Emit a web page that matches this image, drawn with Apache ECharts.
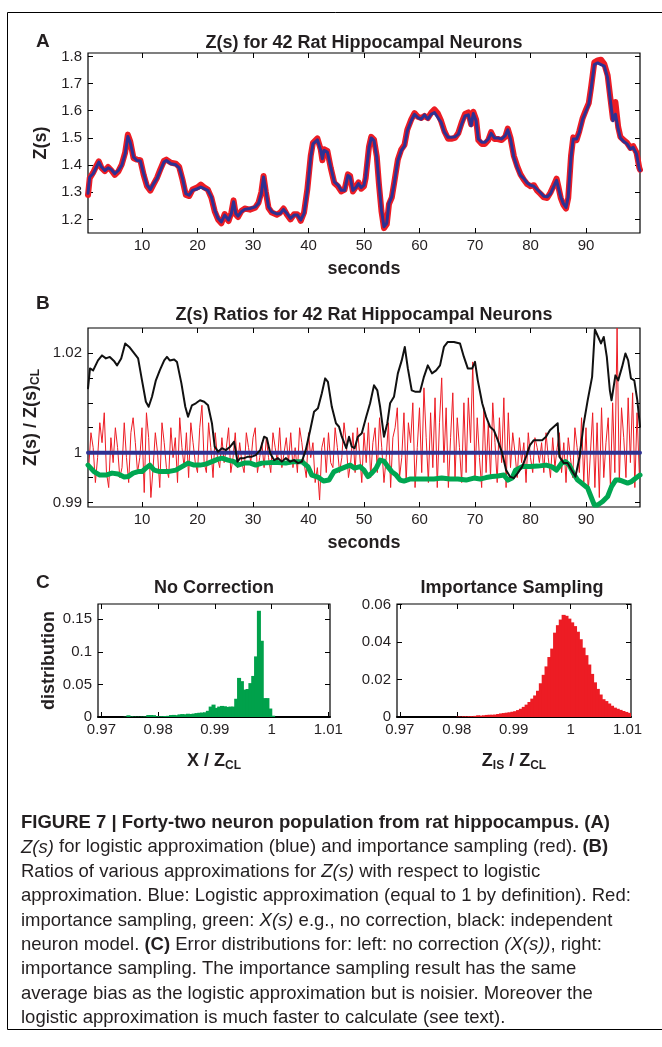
<!DOCTYPE html>
<html><head><meta charset="utf-8">
<script src="https://cdn.jsdelivr.net/npm/echarts@6/dist/echarts.min.js"></script>
<style>html,body{margin:0;padding:0;background:#fff}#c{width:662px;height:1047px}</style>
</head><body><div id="c"></div>
<script>
// ---------------- DATA ----------------
// Panel A: Z(s) over time
const TIME_A = [
 0.27,0.58,1.19,1.79,2.22,2.7,3.3,3.9,4.5,5.1,
 5.74,6.35,6.96,7.45,7.87,8.48,9.09,9.7,10.3,10.9,
 11.5,12.1,12.7,13.3,13.95,14.4,15.2,16.1,16.7,17.3,
 17.9,18.5,19.1,20.0,20.6,21.2,21.85,22.5,23.1,23.7,
 24.3,24.9,25.2,25.6,26.1,26.5,26.9,27.3,27.9,28.5,
 29.45,30.4,31.0,31.5,31.9,32.3,32.8,33.4,34.3,34.9,
 35.5,36.1,36.75,37.4,38.0,38.6,39.2,39.8,40.4,40.8,
 41.6,42.2,42.5,42.8,43.4,44.0,44.65,45.3,45.9,46.5,
 47.1,47.5,48.0,48.6,49.0,49.5,50.0,50.3,50.9,51.3,
 51.8,52.3,52.7,53.15,53.6,54.1,54.5,55.0,55.45,56.1,
 56.7,57.3,57.8,58.5,59.1,59.7,60.3,60.9,61.5,62.1,
 62.7,63.3,63.9,64.5,65.15,65.75,66.4,67.0,67.6,68.2,
 68.8,69.3,69.7,70.2,70.6,71.2,71.8,72.4,72.9,73.5,
 74.1,74.8,75.45,75.9,76.4,77.0,77.6,78.2,78.8,79.4,
 80.0,80.6,81.2,81.8,82.4,83.0,83.6,84.2,84.7,85.0,
 85.45,85.9,86.4,86.8,87.3,87.7,88.3,88.8,89.4,90.0,
 90.5,90.9,91.5,92.1,92.7,93.3,93.9,94.4,94.85,95.3,
 95.8,96.2,96.8,97.4,98.0,98.5,99.1,99.6,99.73];
const Z_LOGISTIC = [
 1.296,1.356,1.368,1.393,1.411,1.393,1.380,1.390,1.383,1.368,
 1.380,1.399,1.441,1.505,1.484,1.429,1.417,1.415,1.368,1.326,
 1.310,1.332,1.350,1.380,1.411,1.417,1.405,1.401,1.390,1.350,
 1.295,1.289,1.307,1.313,1.319,1.313,1.307,1.283,1.234,1.204,
 1.191,1.216,1.210,1.198,1.222,1.265,1.222,1.212,1.228,1.237,
 1.240,1.246,1.259,1.295,1.356,1.307,1.246,1.228,1.220,1.222,
 1.237,1.222,1.204,1.216,1.216,1.198,1.222,1.307,1.429,1.478,
 1.493,1.454,1.423,1.454,1.448,1.393,1.338,1.326,1.307,1.307,
 1.362,1.356,1.307,1.319,1.332,1.317,1.326,1.356,1.465,1.500,
 1.490,1.429,1.332,1.234,1.173,1.186,1.259,1.283,1.332,1.417,
 1.453,1.471,1.526,1.563,1.587,1.575,1.569,1.585,1.569,1.587,
 1.593,1.575,1.557,1.520,1.502,1.502,1.504,1.514,1.551,1.581,
 1.585,1.545,1.590,1.563,1.496,1.484,1.484,1.496,1.517,1.500,
 1.500,1.496,1.508,1.530,1.496,1.429,1.392,1.362,1.350,1.334,
 1.326,1.322,1.310,1.298,1.285,1.283,1.295,1.322,1.344,1.319,
 1.283,1.259,1.244,1.283,1.429,1.496,1.496,1.520,1.569,1.599,
 1.624,1.678,1.770,1.776,1.770,1.764,1.721,1.636,1.563,1.587,
 1.532,1.500,1.487,1.478,1.459,1.465,1.441,1.386,1.380];
const Z_IMPORTANCE = [
 1.290,1.352,1.372,1.398,1.414,1.390,1.378,1.393,1.380,1.364,
 1.377,1.402,1.446,1.512,1.488,1.425,1.420,1.418,1.364,1.322,
 1.306,1.330,1.353,1.384,1.415,1.420,1.409,1.405,1.393,1.346,
 1.290,1.286,1.310,1.318,1.328,1.318,1.310,1.280,1.230,1.200,
 1.186,1.220,1.206,1.194,1.225,1.270,1.218,1.209,1.231,1.240,
 1.236,1.243,1.262,1.300,1.360,1.303,1.242,1.225,1.217,1.225,
 1.240,1.218,1.200,1.219,1.219,1.195,1.226,1.312,1.434,1.482,
 1.498,1.458,1.418,1.458,1.452,1.390,1.334,1.322,1.303,1.310,
 1.366,1.360,1.303,1.322,1.336,1.313,1.322,1.352,1.468,1.504,
 1.494,1.432,1.328,1.230,1.168,1.182,1.256,1.280,1.336,1.420,
 1.457,1.475,1.530,1.567,1.591,1.578,1.573,1.581,1.573,1.592,
 1.605,1.590,1.562,1.524,1.497,1.497,1.500,1.518,1.556,1.588,
 1.594,1.550,1.596,1.568,1.492,1.478,1.478,1.492,1.521,1.496,
 1.496,1.492,1.504,1.534,1.500,1.434,1.396,1.366,1.346,1.330,
 1.322,1.326,1.306,1.294,1.281,1.279,1.299,1.326,1.350,1.323,
 1.279,1.255,1.240,1.279,1.434,1.502,1.492,1.525,1.573,1.604,
 1.628,1.684,1.778,1.785,1.788,1.772,1.730,1.645,1.570,1.632,
 1.540,1.504,1.492,1.482,1.463,1.470,1.446,1.390,1.383];

// Panel B: ratios
const LOGISTIC_RATIO = 1;
const IS_RATIO_T0 = 0.4, IS_RATIO_DT = 0.4;
const IS_RATIO = [
 0.997,1.004,1.001,0.994,0.999,1.006,1.002,1.008,0.996,0.993,
 1.003,0.998,1.005,1.001,0.995,0.997,1.006,0.999,0.994,1.004,
 1.007,1.002,0.996,0.999,1.005,0.992,1.008,1.003,0.991,0.997,
 1.004,1.000,0.993,1.006,1.002,0.997,0.995,1.005,0.999,1.003,
 0.994,1.007,1.001,0.997,1.004,0.995,1.006,1.002,0.998,0.996,
 1.005,1.0095,0.998,0.996,1.006,1.001,0.995,1.004,0.999,0.997,
 1.003,0.998,1.001,1.005,0.996,0.999,1.004,0.997,1.002,0.998,
 0.996,1.004,1.001,0.998,1.003,1.005,0.996,0.999,1.002,0.997,
 1.003,0.999,0.996,1.004,1.001,0.998,1.005,0.997,1.000,1.003,
 0.998,1.004,0.997,1.001,0.996,1.005,1.002,0.998,0.995,1.004,
 0.999,1.002,0.994,0.997,0.9905,1.001,1.003,0.996,1.004,0.998,
 0.997,1.005,1.001,0.996,0.999,1.006,1.002,0.995,0.998,1.004,
 0.996,1.005,1.000,0.994,1.004,0.998,1.006,0.995,1.002,1.005,
 0.996,1.007,1.001,0.994,0.999,1.006,0.993,1.003,1.005,1.009,
 0.995,0.999,1.008,0.994,1.006,1.002,1.010,0.993,1.001,1.009,
 0.996,1.013,1.003,0.994,1.008,0.997,1.011,0.993,1.006,1.015,
 0.998,1.009,0.993,1.003,1.012,0.995,1.007,1.001,0.994,1.010,
 0.996,1.011,1.002,1.0182,0.995,1.007,0.999,0.993,1.009,0.996,
 1.006,0.995,1.010,1.002,0.994,1.007,0.998,1.011,0.993,1.008,
 0.997,1.004,1.000,0.995,1.003,0.998,1.002,0.994,1.004,0.999,
 0.996,1.003,1.001,0.998,1.002,0.996,1.004,0.999,0.995,1.003,
 0.997,1.001,1.004,0.996,1.002,0.994,1.003,0.999,0.995,1.005,
 1.001,0.996,1.007,0.994,1.005,0.992,1.000,1.008,0.993,1.006,
 0.991,1.009,0.995,1.002,1.007,0.993,1.010,0.996,1.025,0.994,
 1.009,1.003,0.995,1.011,0.998,1.012,0.993,1.008,0.996];
const TIME_INDEP = [
 0.27,0.63,1.2,2.07,2.8,3.5,4.2,4.95,5.5,6.25,
 6.97,7.7,8.4,9.3,10.0,10.7,11.2,11.8,12.5,13.2,
 14.0,14.5,15.0,15.8,16.3,17.1,17.8,18.3,19.0,19.7,
 20.45,21.2,21.9,22.6,23.1,23.7,24.4,25.1,25.9,26.6,
 27.2,27.7,28.4,29.1,29.8,30.5,31.3,32.0,32.5,33.1,
 33.8,34.5,35.2,35.9,36.7,37.4,38.1,38.8,39.5,40.3,
 41.0,41.7,42.4,43.0,43.5,44.2,44.95,45.5,46.0,46.8,
 47.3,47.8,48.3,48.9,49.6,50.4,51.1,51.8,52.4,52.9,
 53.6,54.2,54.7,55.4,56.1,56.8,57.35,57.9,58.6,59.3,
 60.1,60.8,61.5,62.25,63.0,63.7,64.4,65.1,66.2,67.3,
 68.0,68.7,69.5,70.0,70.5,71.3,72.0,72.7,73.4,74.1,
 74.9,75.6,76.3,77.0,77.7,78.5,79.2,79.9,80.6,81.3,
 82.1,82.8,83.5,84.2,84.9,85.2,86.0,86.7,87.4,88.1,
 88.85,89.6,90.3,91.1,91.6,92.2,92.7,93.2,93.75,94.3,
 94.6,95.3,95.8,96.5,97.1,97.6,98.1,98.7,99.25,99.73];
const INDEP_RATIO = [
 1.0129,1.0169,1.0165,1.0185,1.0195,1.0189,1.0192,1.0184,1.0175,1.0189,
 1.0219,1.0212,1.0202,1.0189,1.0145,1.0102,1.0092,1.0112,1.0145,1.0165,
 1.0185,1.0192,1.0185,1.0187,1.0182,1.0139,1.0092,1.0072,1.0095,1.0099,
 1.0105,1.0102,1.0095,1.0059,1.0012,1.0002,1.0009,1.0005,1.0012,1.0022,
 0.9982,0.9989,0.9989,0.9992,0.9992,0.9995,1.0005,1.0032,1.0029,0.9999,
 0.9985,0.9989,0.9982,0.9989,0.9982,0.9985,0.9979,0.9982,1.0005,1.0045,
 1.0082,1.0089,1.0119,1.0149,1.0142,1.0092,1.0059,1.0052,1.0032,1.0009,
 1.0032,1.0012,1.0009,1.0032,1.0039,1.0072,1.0099,1.0135,1.0125,1.0092,
 1.0032,1.0059,1.0099,1.0112,1.0159,1.0185,1.0212,1.0169,1.0125,1.0122,
 1.0122,1.0152,1.0175,1.0159,1.0165,1.0175,1.0212,1.0222,1.0222,1.0219,
 1.0192,1.0169,1.0169,1.0182,1.0145,1.0099,1.0072,1.0052,1.0045,1.0025,
 0.9999,0.9965,0.9952,0.9949,0.9959,0.9972,0.9992,1.0015,1.0025,1.0025,
 1.0025,1.0032,1.0045,1.0052,1.0059,0.9992,0.9979,0.9979,0.9965,0.9952,
 0.9992,1.0059,1.0105,1.0152,1.0247,1.0232,1.0219,1.0232,1.0192,1.0125,
 1.0105,1.0155,1.0145,1.0172,1.0199,1.0185,1.0149,1.0145,1.0105,1.0052];
const TIME_NOCORR = [
 0.27,1.35,2.4,3.5,4.6,5.7,6.8,7.5,8.4,9.3,
 10.0,10.7,11.4,12.2,13.2,14.7,16.1,17.2,18.3,19.4,
 20.45,21.5,22.6,23.7,24.4,25.5,26.6,27.3,28.4,29.5,
 30.5,31.6,33.1,34.5,35.9,37.4,38.8,39.9,40.6,41.7,
 42.7,43.7,44.6,45.7,46.8,47.5,48.3,49.3,50.0,50.7,
 51.4,52.2,52.9,53.6,54.3,55.0,55.8,56.5,57.2,58.25,
 59.7,61.1,62.6,64.0,65.5,66.9,68.4,69.8,70.9,72.0,
 73.1,74.1,75.2,75.95,76.7,77.3,78.5,79.9,81.3,82.8,
 83.8,84.7,85.6,86.3,87.0,87.7,88.5,89.2,90.3,91.0,
 91.5,92.1,93.0,93.9,94.6,95.35,96.1,96.8,97.5,98.2,
 99.0,99.73];
const NOCORR_RATIO = [
 0.9975,0.9962,0.9955,0.9955,0.9959,0.9957,0.9951,0.9952,0.9959,0.9962,
 0.9962,0.9969,0.9975,0.9965,0.9962,0.9962,0.9965,0.9972,0.9979,0.9975,
 0.9975,0.9977,0.9982,0.9987,0.9989,0.9985,0.9982,0.9975,0.9979,0.9979,
 0.9975,0.9979,0.9980,0.9980,0.9979,0.9982,0.9982,0.9972,0.9955,0.9951,
 0.9943,0.9945,0.9962,0.9967,0.9972,0.9975,0.9969,0.9972,0.9965,0.9952,
 0.9959,0.9969,0.9985,0.9983,0.9972,0.9962,0.9955,0.9945,0.9943,0.9947,
 0.9947,0.9947,0.9947,0.9949,0.9947,0.9947,0.9945,0.9949,0.9947,0.9950,
 0.9952,0.9953,0.9955,0.9945,0.9949,0.9965,0.9972,0.9972,0.9973,0.9975,
 0.9972,0.9965,0.9979,0.9982,0.9975,0.9959,0.9945,0.9939,0.9929,0.9909,
 0.9895,0.9895,0.9902,0.9912,0.9932,0.9945,0.9945,0.9942,0.9939,0.9942,
 0.9949,0.9955];

// Panel C: histograms (bin left edge = start + i*width)
const NC_BIN_START = 0.974, NC_BIN_WIDTH = 0.0005;
const NC_DIST = [
 0.0005,0.0026,0.0008,0.0005,0.0004,0.0004,0.0005,0.0008,0.0030,0.0030,
 0.0028,0.0012,0.0010,0.0012,0.0015,0.0018,0.0030,0.0032,0.0028,0.0040,
 0.0045,0.0042,0.0050,0.0046,0.0052,0.0060,0.0065,0.0068,0.0072,0.0095,
 0.0160,0.0190,0.0140,0.0160,0.0170,0.0165,0.0155,0.0160,0.0160,0.0280,
 0.0600,0.0550,0.0420,0.0430,0.0520,0.0630,0.0930,0.1630,0.1170,0.0290,
 0.0290,0.0130,0.0020];
const IS_BIN_START = 0.980, IS_BIN_WIDTH = 0.0005;
const IS_DIST = [
 0.0002,0.0002,0.0003,0.0003,0.0004,0.0004,0.0006,0.0009,0.0007,0.0009,
 0.0011,0.0012,0.0012,0.0013,0.0016,0.0019,0.0021,0.0023,0.0025,0.0028,
 0.0031,0.0037,0.0044,0.0054,0.0066,0.0080,0.0098,0.0115,0.0140,0.0180,
 0.0225,0.0270,0.0320,0.0365,0.0450,0.0490,0.0520,0.0545,0.0540,0.0525,
 0.0505,0.0485,0.0455,0.0415,0.0370,0.0330,0.0280,0.0230,0.0185,0.0150,
 0.0120,0.0095,0.0085,0.0072,0.0060,0.0050,0.0044,0.0038,0.0032,0.0027,
 0.0022,0.0017];

// Tick values
const TICKS_SECONDS = [10,20,30,40,50,60,70,80,90];
const TICKS_Z = [1.2,1.3,1.4,1.5,1.6,1.7,1.8];
const TICKS_RATIO = [0.99,0.995,1,1.005,1.01,1.015,1.02];
const LABELS_RATIO = [0.99,1,1.02];
const TICKS_ERR = [0.97,0.98,0.99,1,1.01];
const TICKS_NC = [0,0.05,0.1,0.15];
const TICKS_IS = [0,0.02,0.04,0.06];

// ---------------- CHART ----------------
const FONT = '"Liberation Sans", Arial, Helvetica, sans-serif';
const TXT = '#231f20';
const chart = echarts.init(document.getElementById('c'), null, {renderer: 'canvas'});
const fmt = v => String(+(+v).toFixed(4));
const nameStyle = {fontSize: 18, fontWeight: 'bold', color: TXT, fontFamily: FONT,
  rich: {m: {fontSize: 18, fontWeight: 'bold', color: TXT, fontFamily: FONT},
         s: {fontSize: 12, fontWeight: 'bold', color: TXT, fontFamily: FONT, padding: [10, 0, 0, 0]}}};

const grids = [
  {left: 88, top: 53, width: 552, height: 180},
  {left: 88, top: 328, width: 552, height: 179},
  {left: 98, top: 604, width: 232, height: 113},
  {left: 397, top: 604, width: 234, height: 113}
].map(g => Object.assign({show: true, borderColor: '#000', borderWidth: 1.2, backgroundColor: 'transparent'}, g));

const xAxes = [], yAxes = [];
function tick(vals) { return {show: true, inside: true, length: 5, customValues: vals, lineStyle: {color: '#000', width: 1}}; }
function addAxes(gi, c) {
  const base = {type: 'value', gridIndex: gi, splitLine: {show: false}, axisLine: {show: false, onZero: false}};
  xAxes.push(Object.assign({}, base, {
    position: 'bottom', min: c.xmin, max: c.xmax, axisTick: tick(c.xticks),
    axisLabel: {show: true, customValues: c.xlabels || c.xticks, formatter: fmt, fontSize: 15, color: TXT, fontFamily: FONT, margin: 5},
    name: c.xname, nameLocation: 'middle', nameGap: c.xgap, nameTextStyle: nameStyle
  }, c.xextra || {}));
  xAxes.push(Object.assign({}, base, {position: 'top', min: c.xmin, max: c.xmax, axisTick: tick(c.xticks), axisLabel: {show: false}}));
  yAxes.push(Object.assign({}, base, {
    position: 'left', min: c.ymin, max: c.ymax, axisTick: tick(c.yticks),
    axisLabel: {show: true, customValues: c.ylabels || c.yticks, formatter: fmt, fontSize: 15, color: TXT, fontFamily: FONT, margin: 6},
    name: c.yname, nameLocation: 'middle', nameRotate: 90, nameGap: c.ygap, nameTextStyle: nameStyle
  }));
  yAxes.push(Object.assign({}, base, {position: 'right', min: c.ymin, max: c.ymax, axisTick: tick(c.yticks), axisLabel: {show: false}}));
}
addAxes(0, {xmin: 0.27, xmax: 99.73, xticks: TICKS_SECONDS, xname: 'seconds', xgap: 27,
            ymin: 1.15, ymax: 1.8125, yticks: TICKS_Z, yname: 'Z(s)', ygap: 37});
addAxes(1, {xmin: 0.27, xmax: 99.73, xticks: TICKS_SECONDS, xname: 'seconds', xgap: 27,
            ymin: 0.9891, ymax: 1.025, yticks: TICKS_RATIO, ylabels: LABELS_RATIO,
            yname: '{m|Z(s) / Z(s)}{s|CL}', ygap: 30});
addAxes(2, {xmin: 0.9694, xmax: 1.0103, xticks: TICKS_ERR, xname: '{m|X / Z}{s|CL}', xgap: 33,
            xextra: {axisLine: {show: true, onZero: false, lineStyle: {color: '#000', width: 2}}},
            ymin: 0, ymax: 0.1734, yticks: TICKS_NC, yname: 'distribution', ygap: 40});
addAxes(3, {xmin: 0.9695, xmax: 1.0106, xticks: TICKS_ERR, xname: '{m|Z}{s|IS}{m| / Z}{s|CL}', xgap: 33,
            xextra: {axisLine: {show: true, onZero: false, lineStyle: {color: '#000', width: 2}}},
            ymin: 0, ymax: 0.0603, yticks: TICKS_IS, yname: '', ygap: 40});

function lineSeries(gi, data, color, width) {
  return {type: 'line', xAxisIndex: 2 * gi, yAxisIndex: 2 * gi, data: data, showSymbol: false, symbol: 'none',
    lineStyle: {color: color, width: width, join: 'round', cap: 'round'}, silent: true, animation: false, clip: true};
}
function histSeries(gi, start, width, dist, color) {
  return {type: 'custom', xAxisIndex: 2 * gi, yAxisIndex: 2 * gi, clip: true, silent: true, animation: false,
    data: dist.map((v, i) => [start + i * width, v]),
    renderItem: function (params, api) {
      const x0 = api.value(0), v = api.value(1);
      const p0 = api.coord([x0, 0]), p1 = api.coord([x0 + width, v]);
      return {type: 'rect', shape: {x: p0[0] - 0.5, y: p1[1], width: p1[0] - p0[0] + 1.2, height: p0[1] - p1[1]},
        style: {fill: color, stroke: null}};
    }};
}

const RED = '#ED1C24', BLUE = '#2E3192', GREEN = '#00A651', GREEN_H = '#00A14B';
const series = [
  lineSeries(0, TIME_A.map((t, i) => [t, Z_IMPORTANCE[i]]), RED, 6),
  lineSeries(0, TIME_A.map((t, i) => [t, Z_LOGISTIC[i]]), BLUE, 3),
  lineSeries(1, IS_RATIO.map((v, i) => [IS_RATIO_T0 + i * IS_RATIO_DT, v]), RED, 1),
  lineSeries(1, [[0.27, LOGISTIC_RATIO], [99.73, LOGISTIC_RATIO]], BLUE, 4),
  lineSeries(1, TIME_NOCORR.map((t, i) => [t, NOCORR_RATIO[i]]), GREEN, 5),
  lineSeries(1, TIME_INDEP.map((t, i) => [t, INDEP_RATIO[i]]), '#111', 2),
  histSeries(2, NC_BIN_START, NC_BIN_WIDTH, NC_DIST, GREEN_H),
  histSeries(3, IS_BIN_START, IS_BIN_WIDTH, IS_DIST, RED)
];

function gtext(x, y, text, size, weight, align, extra) {
  return {type: 'text', x: x, y: y, silent: true,
    style: Object.assign({text: text, fontSize: size, fontWeight: weight, fontFamily: FONT, fill: TXT,
      align: align || 'center', verticalAlign: 'middle'}, extra || {})};
}
const CAPTION_LINES = [
 '{b|FIGURE 7 | Forty-two neuron population from rat hippocampus. (A)}',
 '{i|Z(s)}{r| for logistic approximation (blue) and importance sampling (red). }{b|(B)}',
 '{r|Ratios of various approximations for }{i|Z(s)}{r| with respect to logistic}',
 '{r|approximation. Blue: Logistic approximation (equal to 1 by definition). Red:}',
 '{r|importance sampling, green: }{i|X(s)}{r| e.g., no correction, black: independent}',
 '{r|neuron model. }{b|(C)}{r| Error distributions for: left: no correction }{i|(X(s))}{r|, right:}',
 '{r|importance sampling. The importance sampling result has the same}',
 '{r|average bias as the logistic approximation but is noisier. Moreover the}',
 '{r|logistic approximation is much faster to calculate (see text).}'
];
const CAP_SIZE = 18.5;
const capRich = {
  r: {fontSize: CAP_SIZE, fontFamily: FONT, fill: TXT, color: TXT},
  b: {fontSize: CAP_SIZE, fontFamily: FONT, fontWeight: 'bold', fill: TXT, color: TXT},
  i: {fontSize: CAP_SIZE, fontFamily: FONT, fontStyle: 'italic', fill: TXT, color: TXT}
};
const graphics = [
  {type: 'rect', silent: true, shape: {x: 7.5, y: 12.5, width: 700, height: 1017}, style: {fill: 'none', stroke: '#000', lineWidth: 1}},
  gtext(36, 42, 'A', 19, 'bold', 'left'),
  gtext(364, 43, 'Z(s) for 42 Rat Hippocampal Neurons', 18, 'bold'),
  gtext(36, 304, 'B', 19, 'bold', 'left'),
  gtext(364, 315, 'Z(s) Ratios for 42 Rat Hippocampal Neurons', 18, 'bold'),
  gtext(36, 583, 'C', 19, 'bold', 'left'),
  gtext(214, 588, 'No Correction', 18, 'bold'),
  gtext(512, 588, 'Importance Sampling', 18, 'bold')
];
CAPTION_LINES.forEach((ln, k) => {
  graphics.push(gtext(21, 823 + k * 24.4, ln, CAP_SIZE, 'normal', 'left', {rich: capRich}));
});

chart.setOption({
  animation: false,
  backgroundColor: '#fff',
  textStyle: {fontFamily: FONT},
  grid: grids,
  xAxis: xAxes,
  yAxis: yAxes,
  series: series,
  graphic: {elements: graphics}
});
</script>
</body></html>
